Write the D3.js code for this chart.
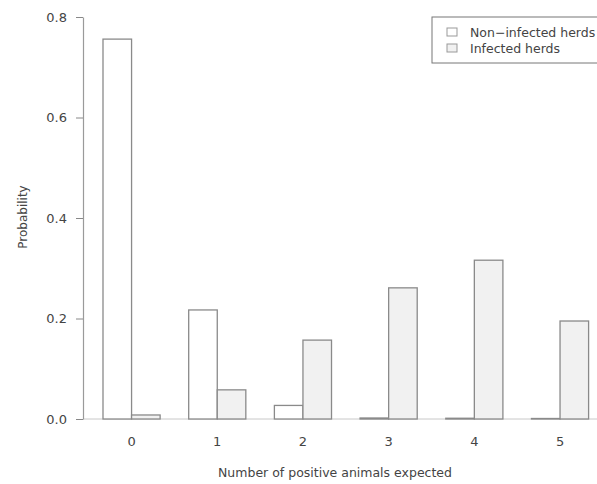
<!DOCTYPE html>
<html>
<head>
<meta charset="utf-8">
<script src="https://cdn.jsdelivr.net/npm/d3@7"></script>
<style>
	body { margin: 0; background: #fff; }
	text { font-family: "DejaVu Sans", sans-serif; fill: #444; }
</style>
</head>
<body>
<div id="chart"></div>
<script>
var categories = ["0", "1", "2", "3", "4", "5"];
var seriesNames = ["Non\u2212infected herds", "Infected herds"];
var nonInfected = [0.756, 0.217, 0.027, 0.002, 0.0015, 0.001];
var infected = [0.008, 0.058, 0.157, 0.261, 0.316, 0.195];
var yTicks = [0, 0.2, 0.4, 0.6, 0.8];

drawBars("chart");

function drawBars(container){
	var width = 597, height = 484;
	var svg = d3.select("#"+container).append("svg")
		.attr("width", width)
		.attr("height", height);

	var x = d3.scaleBand()
		.domain(categories)
		.range([103, 588.6])
		.paddingInner(1/3)
		.paddingOuter(0);
	var xSub = d3.scaleBand()
		.domain([0, 1])
		.range([0, x.bandwidth()]);
	var y = d3.scaleLinear()
		.domain([0, 0.8])
		.range([419, 17]);

	// baseline
	svg.append("line")
		.attr("x1", 83).attr("x2", width)
		.attr("y1", y(0)).attr("y2", y(0))
		.attr("stroke", "#c8c8c8").attr("stroke-width", 1);

	var rows = categories.map(function(c, i){ return [nonInfected[i], infected[i]]; });
	var fills = ["#ffffff", "#f1f1f1"];

	var groups = svg.selectAll(".grp")
		.data(rows)
		.enter().append("g")
		.attr("class", "grp")
		.attr("transform", function(d, i){ return "translate(" + x(categories[i]) + ",0)"; });

	groups.selectAll("rect")
		.data(function(d){ return d; })
		.enter().append("rect")
		.attr("x", function(d, j){ return xSub(j); })
		.attr("y", function(d){ return y(d); })
		.attr("width", xSub.bandwidth())
		.attr("height", function(d){ return y(0) - y(d); })
		.attr("fill", function(d, j){ return fills[j]; })
		.attr("stroke", "#8a8a8a")
		.attr("stroke-width", 1.3);

	// y axis
	var yAxis = d3.axisLeft(y)
		.tickValues(yTicks)
		.tickFormat(d3.format(".1f"))
		.tickSize(7)
		.tickSizeOuter(0)
		.tickPadding(9);
	var ay = svg.append("g")
		.attr("transform", "translate(83,0)")
		.call(yAxis);
	ay.select(".domain").attr("stroke", "#9a9a9a").attr("stroke-width", 1.2);
	ay.selectAll(".tick line").attr("stroke", "#888");
	ay.selectAll("text").style("font-size", "13px").style("font-family", "DejaVu Sans, sans-serif").attr("fill", "#555");

	// x labels
	svg.selectAll(".xlab")
		.data(categories)
		.enter().append("text")
		.attr("class", "xlab")
		.attr("x", function(d){ return x(d) + x.bandwidth()/2; })
		.attr("y", 446)
		.attr("text-anchor", "middle")
		.style("font-size", "13px")
		.attr("fill", "#555")
		.text(function(d){ return d; });

	svg.append("text")
		.attr("x", 335)
		.attr("y", 477)
		.attr("text-anchor", "middle")
		.style("font-size", "12.5px")
		.text("Number of positive animals expected");

	svg.append("text")
		.attr("transform", "translate(27,217) rotate(-90)")
		.attr("text-anchor", "middle")
		.style("font-size", "12px")
		.text("Probability");

	// legend
	var lg = svg.append("g").attr("transform", "translate(432,17)");
	lg.append("rect")
		.attr("x", 0).attr("y", 0)
		.attr("width", 200).attr("height", 46)
		.attr("fill", "none")
		.attr("stroke", "#777")
		.attr("stroke-width", 1);
	seriesNames.forEach(function(name, i){
		lg.append("rect")
			.attr("x", 15).attr("y", 11 + i*16)
			.attr("width", 10).attr("height", 8)
			.attr("fill", fills[i])
			.attr("stroke", "#999");
		lg.append("text")
			.attr("x", 38).attr("y", 20 + i*16)
			.style("font-size", "12.5px")
			.text(name);
	});
}
</script>
</body>
</html>
